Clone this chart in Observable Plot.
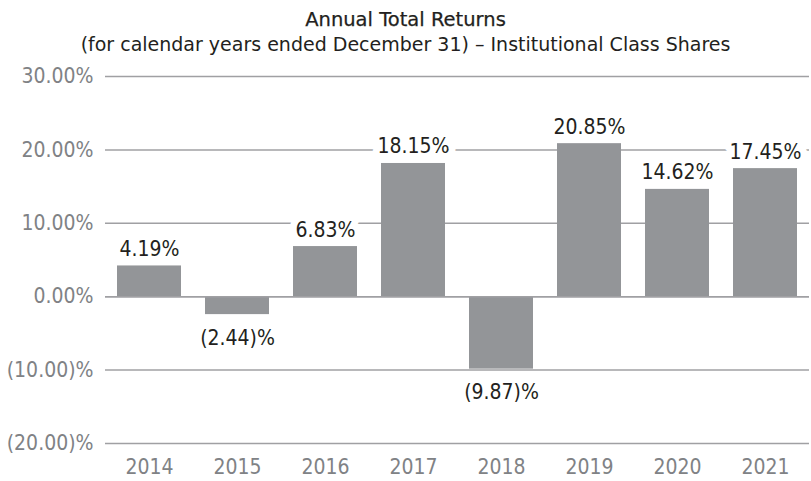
<!DOCTYPE html>
<html>
<head>
<meta charset="utf-8">
<script src="https://cdn.jsdelivr.net/npm/d3@7"></script>
<script src="https://cdn.jsdelivr.net/npm/@observablehq/plot@0.6"></script>
<style>
  body { margin: 0; background: #fff; font-family: "DejaVu Sans", sans-serif; }
  #wrap { width: 811px; }
  .title { text-align: center; color: #231f20; font-size: 19.5px; line-height: 24px; padding-top: 8px; height: 24px; -webkit-text-stroke: 0.25px #231f20; }
  .subtitle { text-align: center; color: #231f20; font-size: 19px; line-height: 24px; height: 28px; }
  svg { display: block; }
</style>
</head>
<body>
<div id="wrap">
  <div class="title">Annual Total Returns</div>
  <div class="subtitle">(for calendar years ended December 31) – Institutional Class Shares</div>
  <div id="chart"></div>
</div>
<script>
const years = ["2014", "2015", "2016", "2017", "2018", "2019", "2020", "2021"];
const returns = [4.19, -2.44, 6.83, 18.15, -9.87, 20.85, 14.62, 17.45];
const yTicks = [-20, -10, 0, 10, 20, 30];

const data = years.map((year, i) => ({year, value: returns[i]}));
const fmt = (d) => d < 0 ? `(${Math.abs(d).toFixed(2)})%` : `${d.toFixed(2)}%`;
const FONT = "'DejaVu Sans Condensed', 'DejaVu Sans', sans-serif";

const chart = Plot.plot({
  width: 811,
  height: 421,
  marginLeft: 105,
  marginRight: 2,
  marginTop: 16,
  marginBottom: 38,
  style: { fontFamily: FONT, fontSize: "21px", background: "#fff", fontStretch: "condensed" },
  x: { domain: years, paddingInner: 0.273, paddingOuter: 0.136, label: null },
  y: { domain: [-20, 30], ticks: yTicks, label: null },
  marks: [
    Plot.ruleY(yTicks, { stroke: "#a0a0a3", strokeWidth: 1.5 }),
    Plot.barY(data, { x: "year", y: "value", fill: "#939598" }),
    Plot.ruleY([0], { stroke: "#a0a0a3", strokeWidth: 1.5 }),
    Plot.text(data.filter(d => d.value >= 0), {
      x: "year", y: "value", text: d => fmt(d.value),
      lineAnchor: "bottom", dy: -10, fill: "#231f20", stroke: "white", strokeWidth: 14,
      fontSize: 21
    }),
    Plot.text(data.filter(d => d.value < 0), {
      x: "year", y: "value", text: d => fmt(d.value),
      lineAnchor: "top", dy: 15, fill: "#231f20", stroke: "white", strokeWidth: 14,
      fontSize: 21
    }),
    Plot.axisY(yTicks, { tickSize: 0, tickPadding: 12, tickFormat: fmt, fill: "#808285", fontSize: 21 }),
    Plot.axisX({ tickSize: 0, tickPadding: 16, fill: "#808285", fontSize: 21 })
  ]
});
document.getElementById("chart").appendChild(chart);
</script>
</body>
</html>
